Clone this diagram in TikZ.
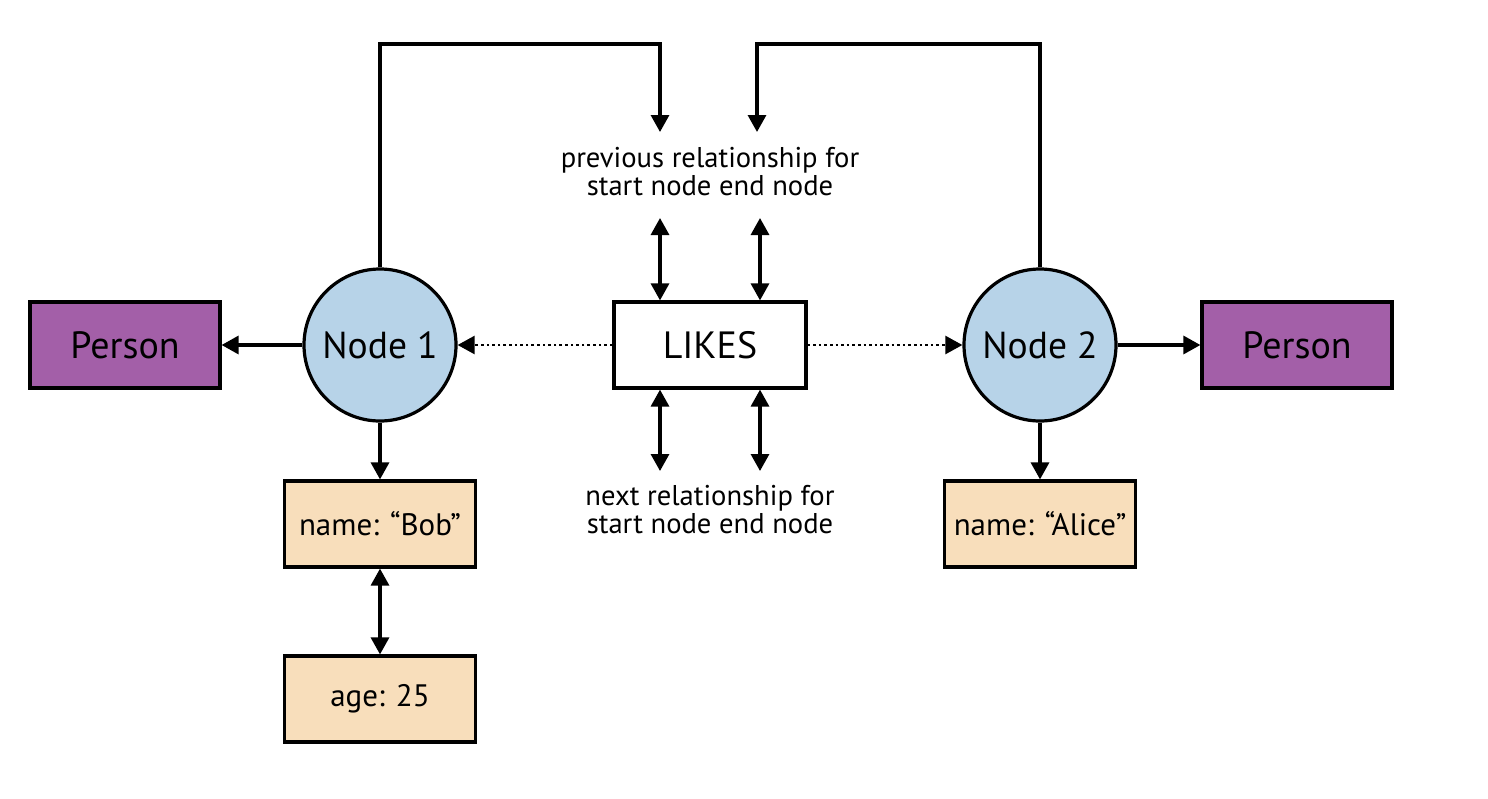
\documentclass[tikz,border=0pt]{standalone}
\usepackage{fontspec}
\setmainfont{PT Sans}
\usetikzlibrary{arrows.meta}
\definecolor{purp}{HTML}{A35FA8}
\definecolor{lblue}{HTML}{B7D3E8}
\definecolor{tan}{HTML}{F8DEBB}
\begin{document}
\begin{tikzpicture}[x=0.5pt,y=-0.5pt,
  line width=1.6pt,
  tip/.style={-{Triangle[width=9pt,length=8.5pt]}},
  dtip/.style={{Triangle[width=9pt,length=8.5pt]}-{Triangle[width=9pt,length=8.5pt]}},
  dots/.style={line width=1.2pt,dash pattern=on 1.3pt off 1.5pt},
  person/.style={draw,fill=purp,minimum width=95pt,minimum height=43pt,inner sep=0pt,font=\fontsize{19}{22}\selectfont},
  gnode/.style={draw,circle,fill=lblue,minimum size=76pt,inner sep=0pt,font=\fontsize{18.8}{22}\selectfont},
  prop/.style={draw,fill=tan,minimum width=95.5pt,minimum height=43pt,inner sep=0pt,font=\fontsize{15.5}{18}\selectfont},
  rel/.style={draw,fill=white,minimum width=96pt,minimum height=43pt,inner sep=0pt,font=\fontsize{19}{22}\selectfont},
  lbl/.style={align=center,font=\fontsize{14.3}{14}\selectfont,inner sep=0pt}]
\useasboundingbox (0,0) rectangle (1488,798);
\node[person] (p1) at (125,345) {Person};
\node[gnode] (n1) at (380,345) {Node 1};
\node[rel] (likes) at (710,345) {LIKES};
\node[gnode] (n2) at (1040,345) {Node 2};
\node[person] (p2) at (1297,345) {Person};
\node[prop] (bob) at (380,524) {name: “Bob”};
\node[prop] (age) at (380,699) {age: 25};
\node[prop] (alice) at (1040,524) {name: “Alice”};
\node[lbl] (prev) at (710,172) {previous relationship for\\start node end node};
\node[lbl] (next) at (710,510) {next relationship for\\start node end node};
% coordinates
\coordinate (t1) at (660,132);
\coordinate (t2) at (757,132);
\coordinate (pa) at (660,218);
\coordinate (pb) at (760,218);
\coordinate (na) at (660,471);
\coordinate (nb) at (760,471);
% edges
\draw[tip] (n1.north) |- (380,44) -| (t1);
\draw[tip] (n2.north) |- (1038,44) -| (t2);
\draw[dtip] (pa) -- (pa |- likes.north);
\draw[dtip] (pb) -- (pb |- likes.north);
\draw[dtip] (na |- likes.south) -- (na);
\draw[dtip] (nb |- likes.south) -- (nb);
\draw[tip] (n1.west) -- (p1.east);
\draw[tip] (n2.east) -- (p2.west);
\draw[dots,tip] (likes.west) -- (n1.east);
\draw[dots,tip] (likes.east) -- (n2.west);
\draw[tip] (n1.south) -- (bob.north);
\draw[tip] (n2.south) -- (alice.north);
\draw[dtip] (bob.south) -- (age.north);
\end{tikzpicture}
\end{document}
